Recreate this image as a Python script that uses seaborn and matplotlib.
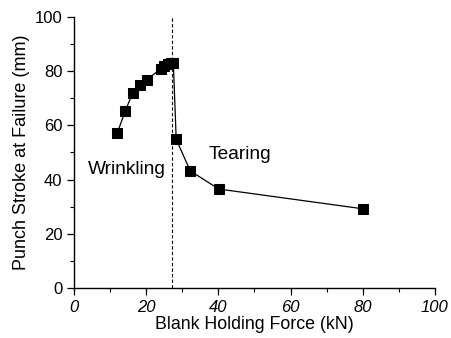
import numpy as np
import pandas as pd
import matplotlib
matplotlib.use("Agg")
import matplotlib.pyplot as plt
import seaborn as sns
from matplotlib.ticker import MultipleLocator

# values
force_kn = [12.0, 14.2, 16.2, 18.3, 20.2, 24.0, 25.0, 26.0, 26.8, 27.5, 28.3, 32.2, 40.1, 80.1]
stroke_mm = [57.3, 65.4, 71.8, 75.0, 76.8, 80.9, 82.0, 82.8, 83.1, 83.1, 54.8, 43.2, 36.5, 29.2]
transition_kn = 27.0
x_ticks = [0, 20, 40, 60, 80, 100]
y_ticks = [0, 20, 40, 60, 80, 100]

df = pd.DataFrame({'force': force_kn, 'stroke': stroke_mm})

sns.set_theme(style="ticks", rc={'text.color': 'black', 'axes.labelcolor': 'black',
                                 'xtick.color': 'black', 'ytick.color': 'black'})
plt.rcParams['font.family'] = ['Liberation Sans', 'DejaVu Sans']

fig, ax = plt.subplots(figsize=(4.52, 3.38), dpi=100)
fig.subplots_adjust(left=0.164, right=0.962, top=0.95, bottom=0.148)

sns.lineplot(data=df, x='force', y='stroke', ax=ax, color='black', linewidth=0.9,
             marker='s', markersize=6.5, markeredgecolor='black', sort=False)
ax.axvline(transition_kn, color='black', linestyle=(0, (3, 2)), linewidth=0.8)

ax.text(3.7, 43.6, 'Wrinkling', fontsize=13.8, va='center', ha='left')
ax.text(37.3, 49.1, 'Tearing', fontsize=13.8, va='center', ha='left')

ax.set_xlim(0, 100)
ax.set_ylim(0, 100)
ax.set_xticks(x_ticks)
ax.set_yticks(y_ticks)
ax.xaxis.set_minor_locator(MultipleLocator(10))
ax.yaxis.set_minor_locator(MultipleLocator(10))
ax.tick_params(axis='both', which='major', direction='out', length=5, width=0.9, labelsize=12, colors='black')
ax.tick_params(axis='both', which='minor', direction='out', length=3, width=0.8)
for lab in ax.get_xticklabels():
    lab.set_fontstyle('italic')

ax.set_xlabel('Blank Holding Force (kN)', fontsize=12.8, labelpad=1)
ax.set_ylabel('Punch Stroke at Failure (mm)', fontsize=13, labelpad=3)
sns.despine(ax=ax)
for s in ['left', 'bottom']:
    ax.spines[s].set_linewidth(1.0)
    ax.spines[s].set_color('black')

fig.savefig('out.png', dpi=100)
